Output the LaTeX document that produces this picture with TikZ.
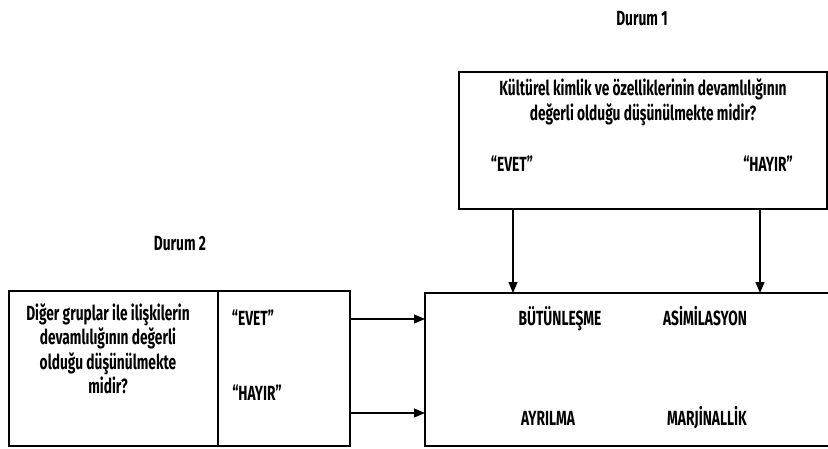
\documentclass[tikz,border=0pt]{standalone}
\usepackage{fontspec}
\setmainfont[FakeStretch=0.67]{Fira Sans}
\usetikzlibrary{arrows.meta}
\begin{document}
\begin{tikzpicture}[x=1pt,y=1pt,
  box/.style={draw,line width=1.1pt,inner sep=0pt},
  lbl/.style={font=\fontsize{20.5}{24.5}\selectfont\bfseries,inner sep=0pt,anchor=center},
  word/.style={lbl,text height=14pt,text depth=0pt},
  conn/.style={line width=1.1pt,-{Triangle[length=11pt,width=9pt]}}]
\useasboundingbox (0,0) rectangle (828,-448);
% boxes
\node[box,minimum width=368pt,minimum height=137pt] (top) at (643,-140.5) {};
\node[box,minimum width=209pt,minimum height=155pt] (q2) at (113.5,-368.5) {};
\node[box,minimum width=132pt,minimum height=155pt] (a2) at (284,-368.5) {};
\node[box,minimum width=406pt,minimum height=153pt] (res) at (628,-369.5) {};
% titles
\node[word] (d1) at (642,-18) {Durum 1};
\node[word] (d2) at (180,-243) {Durum 2};
% top box text
\node[lbl,align=center] (q1) at (643,-102.5) {Kültürel kimlik ve özelliklerinin devamlılığının\\değerli olduğu düşünülmekte midir?};
\node[word] (e1) at (512,-164) {“EVET”};
\node[word] (h1) at (768,-164) {“HAYIR”};
% left box text
\node[lbl,align=center] (q2t) at (108,-349) {Diğer gruplar ile ilişkilerin\\devamlılığının değerli\\olduğu düşünülmekte\\midir?};
\node[word] (e2) at (253,-318) {“EVET”};
\node[word] (h2) at (257,-393) {“HAYIR”};
% results
\node[word] (r1) at (560,-318) {BÜTÜNLEŞME};
\node[word] (r2) at (705,-318) {ASİMİLASYON};
\node[word] (r3) at (548,-418) {AYRILMA};
\node[word] (r4) at (707,-418) {MARJİNALLİK};
% connectors
\coordinate (t1) at (513,-209);
\coordinate (t2) at (760,-209);
\coordinate (b1) at (513,-293);
\coordinate (b2) at (760,-293);
\coordinate (s1) at (350,-319);
\coordinate (s2) at (350,-413);
\coordinate (f1) at (425,-319);
\coordinate (f2) at (425,-413);
\draw[conn] (t1) -- (b1);
\draw[conn] (t2) -- (b2);
\draw[conn] (s1) -- (f1);
\draw[conn] (s2) -- (f2);
\end{tikzpicture}
\end{document}
